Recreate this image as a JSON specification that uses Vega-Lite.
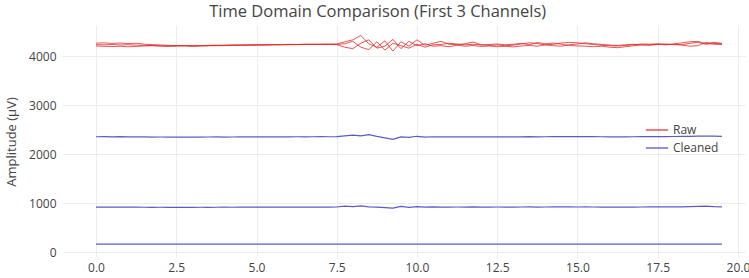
{
  "$schema": "https://vega.github.io/schema/vega-lite/v6.json",
  "width": 683,
  "height": 233,
  "autosize": {"type": "none"},
  "padding": {"left": 62, "top": 25, "right": 4, "bottom": 20},
  "background": "white",
  "title": {"text": "Time Domain Comparison (First 3 Channels)", "fontSize": 16.5, "font": "Open Sans", "fontWeight": "normal", "color": "#444444", "anchor": "middle", "frame": "bounds", "offset": 5},
  "config": {
    "view": {"stroke": null},
    "axis": {"domain": false, "ticks": false, "gridColor": "#ebedf0", "labelColor": "#444444", "labelFont": "Open Sans", "labelFontSize": 12, "titleFont": "Open Sans", "titleFontWeight": "normal", "titleColor": "#444444", "titleFontSize": 13}
  },
  "data": {"values": [
    {"t": 0.00, "r1": 4262, "r2": 4205, "r3": 4232, "c1": 2352, "c2": 918, "c3": 162},
    {"t": 0.25, "r1": 4268, "r2": 4198, "r3": 4228, "c1": 2355, "c2": 916, "c3": 161},
    {"t": 0.50, "r1": 4258, "r2": 4192, "r3": 4236, "c1": 2350, "c2": 919, "c3": 162},
    {"t": 0.75, "r1": 4265, "r2": 4200, "r3": 4225, "c1": 2353, "c2": 917, "c3": 161},
    {"t": 1.00, "r1": 4255, "r2": 4188, "r3": 4230, "c1": 2349, "c2": 915, "c3": 162},
    {"t": 1.25, "r1": 4260, "r2": 4195, "r3": 4222, "c1": 2352, "c2": 917, "c3": 161},
    {"t": 1.50, "r1": 4242, "r2": 4205, "r3": 4218, "c1": 2348, "c2": 914, "c3": 160},
    {"t": 1.75, "r1": 4232, "r2": 4210, "r3": 4215, "c1": 2346, "c2": 913, "c3": 161},
    {"t": 2.00, "r1": 4225, "r2": 4202, "r3": 4210, "c1": 2347, "c2": 914, "c3": 160},
    {"t": 2.25, "r1": 4218, "r2": 4196, "r3": 4208, "c1": 2345, "c2": 912, "c3": 160},
    {"t": 2.50, "r1": 4212, "r2": 4200, "r3": 4215, "c1": 2346, "c2": 913, "c3": 161},
    {"t": 2.75, "r1": 4215, "r2": 4205, "r3": 4212, "c1": 2344, "c2": 912, "c3": 160},
    {"t": 3.00, "r1": 4210, "r2": 4198, "r3": 4206, "c1": 2345, "c2": 913, "c3": 160},
    {"t": 3.25, "r1": 4214, "r2": 4204, "r3": 4210, "c1": 2346, "c2": 914, "c3": 161},
    {"t": 3.50, "r1": 4218, "r2": 4208, "r3": 4214, "c1": 2347, "c2": 913, "c3": 160},
    {"t": 3.75, "r1": 4216, "r2": 4210, "r3": 4220, "c1": 2348, "c2": 914, "c3": 160},
    {"t": 4.00, "r1": 4220, "r2": 4212, "r3": 4218, "c1": 2346, "c2": 915, "c3": 161},
    {"t": 4.25, "r1": 4224, "r2": 4215, "r3": 4222, "c1": 2347, "c2": 914, "c3": 160},
    {"t": 4.50, "r1": 4222, "r2": 4218, "r3": 4226, "c1": 2348, "c2": 915, "c3": 160},
    {"t": 4.75, "r1": 4226, "r2": 4220, "r3": 4224, "c1": 2349, "c2": 916, "c3": 161},
    {"t": 5.00, "r1": 4228, "r2": 4222, "r3": 4230, "c1": 2348, "c2": 915, "c3": 160},
    {"t": 5.25, "r1": 4230, "r2": 4224, "r3": 4228, "c1": 2350, "c2": 916, "c3": 161},
    {"t": 5.50, "r1": 4232, "r2": 4226, "r3": 4234, "c1": 2349, "c2": 917, "c3": 160},
    {"t": 5.75, "r1": 4234, "r2": 4228, "r3": 4232, "c1": 2351, "c2": 916, "c3": 161},
    {"t": 6.00, "r1": 4236, "r2": 4230, "r3": 4238, "c1": 2350, "c2": 917, "c3": 160},
    {"t": 6.25, "r1": 4235, "r2": 4232, "r3": 4236, "c1": 2352, "c2": 918, "c3": 161},
    {"t": 6.50, "r1": 4238, "r2": 4234, "r3": 4240, "c1": 2351, "c2": 917, "c3": 160},
    {"t": 6.75, "r1": 4240, "r2": 4236, "r3": 4238, "c1": 2352, "c2": 918, "c3": 161},
    {"t": 7.00, "r1": 4238, "r2": 4235, "r3": 4242, "c1": 2353, "c2": 917, "c3": 160},
    {"t": 7.25, "r1": 4240, "r2": 4238, "r3": 4240, "c1": 2352, "c2": 918, "c3": 161},
    {"t": 7.50, "r1": 4245, "r2": 4232, "r3": 4238, "c1": 2354, "c2": 919, "c3": 160},
    {"t": 7.75, "r1": 4290, "r2": 4180, "r3": 4250, "c1": 2370, "c2": 935, "c3": 162},
    {"t": 8.00, "r1": 4330, "r2": 4150, "r3": 4300, "c1": 2385, "c2": 928, "c3": 161},
    {"t": 8.25, "r1": 4420, "r2": 4260, "r3": 4180, "c1": 2372, "c2": 940, "c3": 163},
    {"t": 8.50, "r1": 4250, "r2": 4330, "r3": 4130, "c1": 2395, "c2": 922, "c3": 160},
    {"t": 8.75, "r1": 4180, "r2": 4160, "r3": 4290, "c1": 2360, "c2": 915, "c3": 161},
    {"t": 9.00, "r1": 4310, "r2": 4200, "r3": 4120, "c1": 2330, "c2": 905, "c3": 162},
    {"t": 9.25, "r1": 4100, "r2": 4340, "r3": 4260, "c1": 2300, "c2": 895, "c3": 160},
    {"t": 9.50, "r1": 4290, "r2": 4150, "r3": 4210, "c1": 2350, "c2": 930, "c3": 161},
    {"t": 9.75, "r1": 4200, "r2": 4300, "r3": 4160, "c1": 2338, "c2": 910, "c3": 162},
    {"t": 10.00, "r1": 4330, "r2": 4210, "r3": 4240, "c1": 2362, "c2": 925, "c3": 160},
    {"t": 10.25, "r1": 4220, "r2": 4250, "r3": 4180, "c1": 2345, "c2": 918, "c3": 161},
    {"t": 10.50, "r1": 4260, "r2": 4200, "r3": 4230, "c1": 2352, "c2": 920, "c3": 160},
    {"t": 10.75, "r1": 4300, "r2": 4210, "r3": 4235, "c1": 2350, "c2": 918, "c3": 161},
    {"t": 11.00, "r1": 4240, "r2": 4190, "r3": 4260, "c1": 2348, "c2": 917, "c3": 160},
    {"t": 11.25, "r1": 4230, "r2": 4220, "r3": 4245, "c1": 2351, "c2": 919, "c3": 161},
    {"t": 11.50, "r1": 4250, "r2": 4200, "r3": 4228, "c1": 2349, "c2": 918, "c3": 160},
    {"t": 11.75, "r1": 4285, "r2": 4215, "r3": 4240, "c1": 2352, "c2": 920, "c3": 161},
    {"t": 12.00, "r1": 4230, "r2": 4195, "r3": 4225, "c1": 2350, "c2": 918, "c3": 160},
    {"t": 12.25, "r1": 4215, "r2": 4205, "r3": 4235, "c1": 2348, "c2": 917, "c3": 161},
    {"t": 12.50, "r1": 4225, "r2": 4190, "r3": 4245, "c1": 2350, "c2": 919, "c3": 160},
    {"t": 12.75, "r1": 4210, "r2": 4200, "r3": 4230, "c1": 2352, "c2": 918, "c3": 161},
    {"t": 13.00, "r1": 4220, "r2": 4185, "r3": 4240, "c1": 2349, "c2": 917, "c3": 160},
    {"t": 13.25, "r1": 4245, "r2": 4205, "r3": 4260, "c1": 2351, "c2": 919, "c3": 161},
    {"t": 13.50, "r1": 4270, "r2": 4215, "r3": 4230, "c1": 2353, "c2": 920, "c3": 160},
    {"t": 13.75, "r1": 4255, "r2": 4200, "r3": 4275, "c1": 2350, "c2": 918, "c3": 161},
    {"t": 14.00, "r1": 4225, "r2": 4230, "r3": 4250, "c1": 2352, "c2": 919, "c3": 160},
    {"t": 14.25, "r1": 4240, "r2": 4210, "r3": 4265, "c1": 2355, "c2": 922, "c3": 161},
    {"t": 14.50, "r1": 4265, "r2": 4200, "r3": 4240, "c1": 2354, "c2": 921, "c3": 160},
    {"t": 14.75, "r1": 4280, "r2": 4230, "r3": 4215, "c1": 2356, "c2": 920, "c3": 161},
    {"t": 15.00, "r1": 4270, "r2": 4245, "r3": 4205, "c1": 2353, "c2": 919, "c3": 160},
    {"t": 15.25, "r1": 4250, "r2": 4270, "r3": 4200, "c1": 2355, "c2": 920, "c3": 161},
    {"t": 15.50, "r1": 4235, "r2": 4250, "r3": 4190, "c1": 2354, "c2": 919, "c3": 160},
    {"t": 15.75, "r1": 4220, "r2": 4235, "r3": 4200, "c1": 2352, "c2": 918, "c3": 161},
    {"t": 16.00, "r1": 4210, "r2": 4225, "r3": 4180, "c1": 2350, "c2": 917, "c3": 160},
    {"t": 16.25, "r1": 4205, "r2": 4215, "r3": 4170, "c1": 2348, "c2": 916, "c3": 161},
    {"t": 16.50, "r1": 4215, "r2": 4230, "r3": 4190, "c1": 2350, "c2": 917, "c3": 160},
    {"t": 16.75, "r1": 4230, "r2": 4240, "r3": 4210, "c1": 2352, "c2": 918, "c3": 161},
    {"t": 17.00, "r1": 4245, "r2": 4225, "r3": 4230, "c1": 2353, "c2": 919, "c3": 160},
    {"t": 17.25, "r1": 4240, "r2": 4230, "r3": 4220, "c1": 2355, "c2": 920, "c3": 161},
    {"t": 17.50, "r1": 4250, "r2": 4235, "r3": 4240, "c1": 2356, "c2": 921, "c3": 160},
    {"t": 17.75, "r1": 4235, "r2": 4245, "r3": 4228, "c1": 2357, "c2": 920, "c3": 161},
    {"t": 18.00, "r1": 4245, "r2": 4230, "r3": 4240, "c1": 2358, "c2": 921, "c3": 160},
    {"t": 18.25, "r1": 4270, "r2": 4225, "r3": 4230, "c1": 2360, "c2": 922, "c3": 161},
    {"t": 18.50, "r1": 4290, "r2": 4200, "r3": 4260, "c1": 2362, "c2": 925, "c3": 160},
    {"t": 18.75, "r1": 4300, "r2": 4210, "r3": 4280, "c1": 2365, "c2": 930, "c3": 161},
    {"t": 19.00, "r1": 4250, "r2": 4280, "r3": 4240, "c1": 2368, "c2": 935, "c3": 160},
    {"t": 19.25, "r1": 4280, "r2": 4240, "r3": 4255, "c1": 2364, "c2": 926, "c3": 161},
    {"t": 19.50, "r1": 4260, "r2": 4235, "r3": 4250, "c1": 2360, "c2": 922, "c3": 160}
  ]},
  "encoding": {
    "x": {"field": "t", "type": "quantitative", "title": null, "scale": {"domain": [-1.06, 20.22], "nice": false, "zero": false}, "axis": {"values": [0, 2.5, 5, 7.5, 10, 12.5, 15, 17.5, 20], "format": ".1f", "labelPadding": 4}},
    "y": {"field": "v", "type": "quantitative", "title": "Amplitude (µV)", "scale": {"domain": [-122, 4633], "nice": false, "zero": false}, "axis": {"values": [0, 1000, 2000, 3000, 4000], "format": "d", "labelPadding": 6, "titlePadding": 10}}
  },
  "layer": [
    {
      "transform": [{"fold": ["r1", "r2", "r3"], "as": ["ch", "v"]}],
      "mark": {"type": "line", "strokeWidth": 1, "opacity": 0.8},
      "encoding": {
        "detail": {"field": "ch"},
        "color": {"datum": "Raw", "type": "nominal", "scale": {"domain": ["Raw", "Cleaned"], "range": ["#e02a2a", "#4848c4"]}, "legend": {"title": null, "orient": "none", "legendX": 583, "legendY": 93, "symbolType": "stroke", "symbolSize": 500, "symbolStrokeWidth": 1.5, "labelFont": "Open Sans", "labelFontSize": 12, "labelColor": "#444444", "rowPadding": -3}}
      }
    },
    {
      "transform": [{"fold": ["c1", "c2", "c3"], "as": ["ch", "v"]}],
      "mark": {"type": "line", "strokeWidth": 1.2, "opacity": 0.9},
      "encoding": {
        "detail": {"field": "ch"},
        "color": {"datum": "Cleaned", "type": "nominal"}
      }
    }
  ]
}
